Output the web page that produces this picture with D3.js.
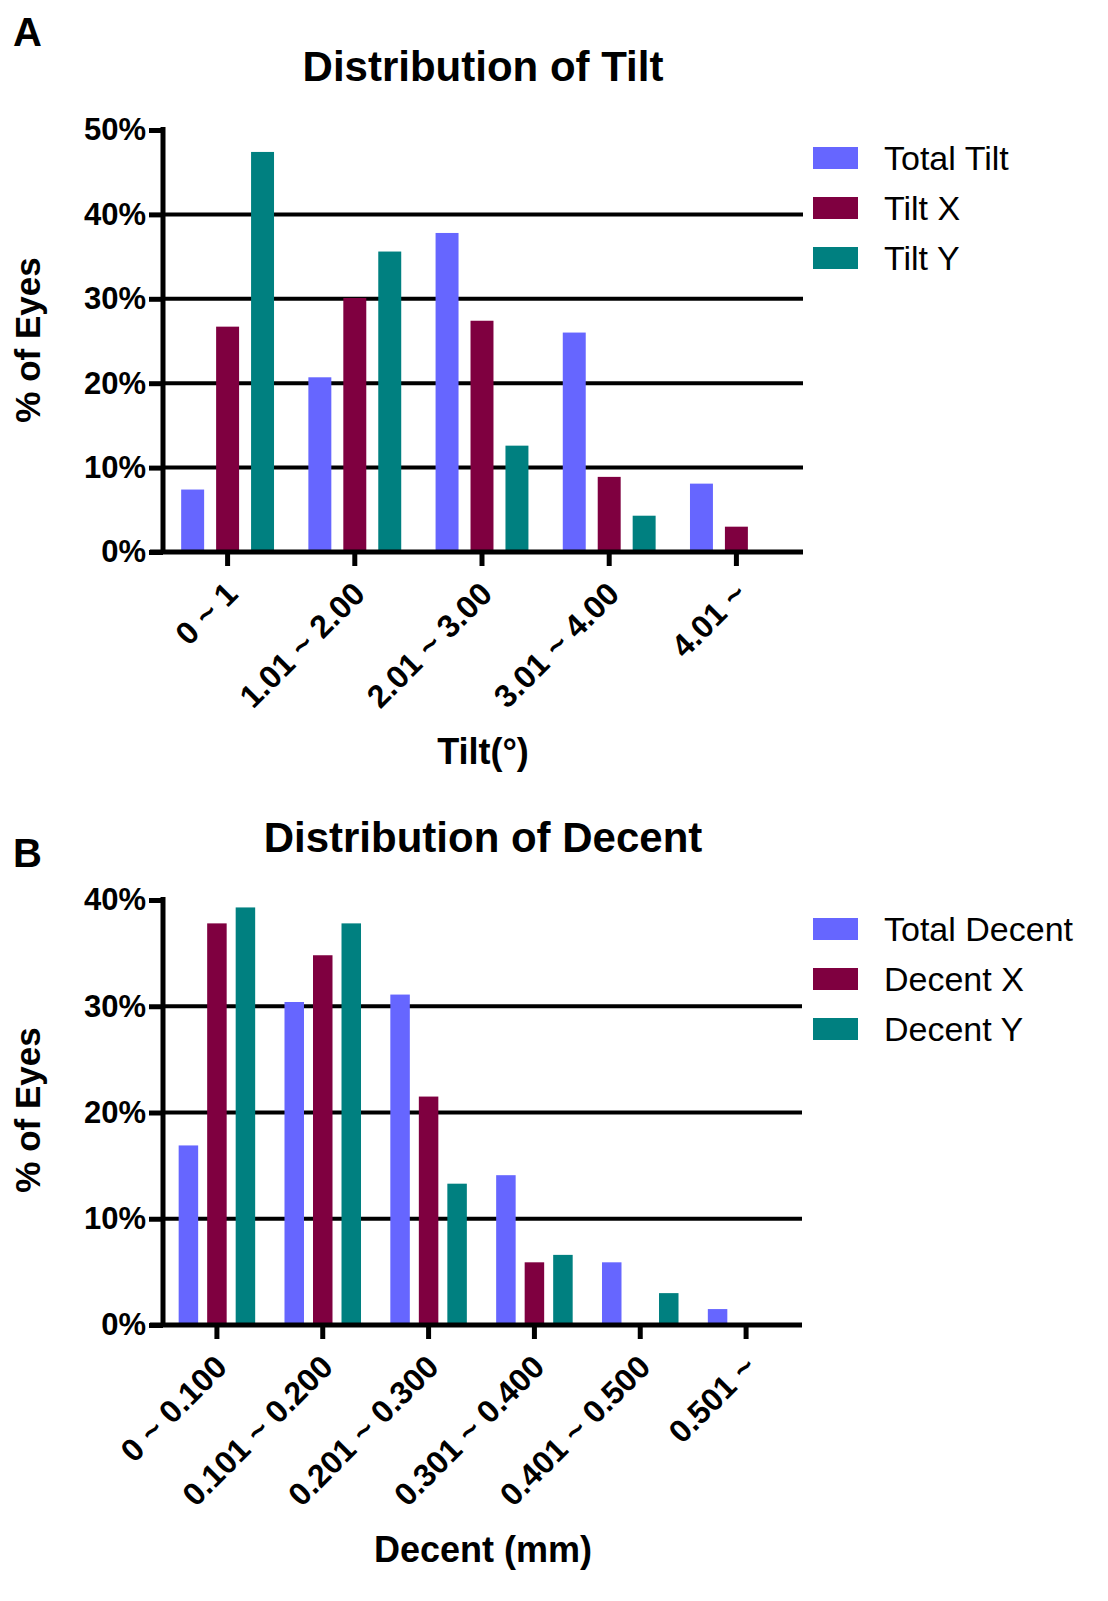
<!DOCTYPE html>
<html>
<head>
<meta charset="utf-8">
<script src="https://cdn.jsdelivr.net/npm/d3@7"></script>
<style>
  body { margin: 0; background: #fff; }
  svg { display: block; font-family: "Liberation Sans", Arial, sans-serif; }
</style>
</head>
<body>
<div id="chart"></div>
<script>
// panel A: tilt
const tiltCats = ["0 ~ 1", "1.01 ~ 2.00", "2.01 ~ 3.00", "3.01 ~ 4.00", "4.01 ~"];
const tiltTotal = [7.4, 20.7, 37.8, 26.0, 8.1];
const tiltX = [26.7, 30.1, 27.4, 8.9, 3.0];
const tiltY = [47.4, 35.6, 12.6, 4.3, 0];
const tiltTicks = [0, 10, 20, 30, 40, 50];
const tiltSeries = ["Total Tilt", "Tilt X", "Tilt Y"];

// panel B: decentration
const decentCats = ["0 ~ 0.100", "0.101 ~ 0.200", "0.201 ~ 0.300", "0.301 ~ 0.400", "0.401 ~ 0.500", "0.501 ~"];
const decentTotal = [16.9, 30.4, 31.1, 14.1, 5.9, 1.5];
const decentX = [37.8, 34.8, 21.5, 5.9, 0, 0];
const decentY = [39.3, 37.8, 13.3, 6.6, 3.0, 0];
const decentTicks = [0, 10, 20, 30, 40];
const decentSeries = ["Total Decent", "Decent X", "Decent Y"];

const colors = ["#6666ff", "#7f0040", "#008080"];

const svg = d3.select("#chart").append("svg")
  .attr("width", 1108)
  .attr("height", 1601);

function drawPanel(opt) {
  const g = svg.append("g");
  const { left, right, top, bottom } = opt;

  const x0 = d3.scaleBand()
    .domain(opt.cats)
    .range([left, right])
    .paddingInner(opt.groupPad)
    .paddingOuter(opt.groupPad / 2);

  const x1 = d3.scaleBand()
    .domain(opt.series)
    .range([0, x0.bandwidth()])
    .paddingInner(opt.barPad);

  const y = d3.scaleLinear()
    .domain([0, d3.max(opt.ticks)])
    .range([bottom, top]);

  // gridlines (none at the top tick)
  g.append("g")
    .selectAll("line")
    .data(opt.ticks.filter((d) => d > 0 && d < d3.max(opt.ticks)))
    .join("line")
    .attr("x1", left)
    .attr("x2", right + 3)
    .attr("y1", (d) => y(d))
    .attr("y2", (d) => y(d))
    .attr("stroke", "#000")
    .attr("stroke-width", 4);

  // bars
  const rows = opt.cats.map((c, i) => ({
    cat: c,
    vals: opt.values.map((v, j) => ({ key: opt.series[j], value: v[i], color: colors[j] })),
  }));

  g.append("g")
    .selectAll("g")
    .data(rows)
    .join("g")
    .attr("transform", (d) => `translate(${x0(d.cat)},0)`)
    .selectAll("rect")
    .data((d) => d.vals.filter((v) => v.value > 0))
    .join("rect")
    .attr("x", (d) => x1(d.key))
    .attr("width", x1.bandwidth())
    .attr("y", (d) => y(d.value))
    .attr("height", (d) => y(0) - y(d.value))
    .attr("fill", (d) => d.color);

  // y axis
  const yAxis = g.append("g")
    .attr("transform", `translate(${left - 1},0)`)
    .call(d3.axisLeft(y).tickValues(opt.ticks).tickSize(14).tickFormat((d) => d + "%"));
  yAxis.select(".domain").remove();
  yAxis.selectAll(".tick line").attr("stroke-width", 5);
  yAxis.selectAll(".tick text")
    .attr("x", -17)
    .attr("font-size", 31)
    .attr("font-weight", "bold")
    .attr("font-family", "'Liberation Sans', Arial, sans-serif")
    .attr("fill", "#000");
  g.append("line")
    .attr("x1", left - 1).attr("x2", left - 1)
    .attr("y1", top - 3).attr("y2", bottom + 2)
    .attr("stroke", "#000").attr("stroke-width", 5);

  // x axis
  const xAxis = g.append("g")
    .attr("transform", `translate(0,${bottom})`)
    .call(d3.axisBottom(x0).tickSize(14).tickFormat(""));
  xAxis.select(".domain").remove();
  xAxis.selectAll(".tick line").attr("stroke-width", 5);
  g.append("line")
    .attr("x1", left - 14).attr("x2", right + 3)
    .attr("y1", bottom).attr("y2", bottom)
    .attr("stroke", "#000").attr("stroke-width", 5);

  g.append("g")
    .selectAll("text")
    .data(opt.cats)
    .join("text")
    .attr("transform", (d) => `translate(${x0(d) + x0.bandwidth() / 2 + 12},${bottom + 44}) rotate(-45)`)
    .attr("text-anchor", "end")
    .attr("font-size", 32)
    .attr("font-weight", "bold")
    .text((d) => d);

  // titles
  g.append("text")
    .attr("x", 483).attr("y", opt.titleY)
    .attr("text-anchor", "middle")
    .attr("font-size", 42).attr("font-weight", "bold")
    .text(opt.title);

  g.append("text")
    .attr("x", 483).attr("y", opt.xTitleY)
    .attr("text-anchor", "middle")
    .attr("font-size", 36).attr("font-weight", "bold")
    .text(opt.xTitle);

  g.append("text")
    .attr("transform", `translate(40,${opt.yTitleY}) rotate(-90)`)
    .attr("text-anchor", "middle")
    .attr("font-size", 35).attr("font-weight", "bold")
    .text("% of Eyes");

  g.append("text")
    .attr("x", 13).attr("y", opt.letterY)
    .attr("font-size", 40).attr("font-weight", "bold")
    .text(opt.letter);

  // legend
  const leg = g.append("g")
    .selectAll("g")
    .data(opt.series)
    .join("g")
    .attr("transform", (d, i) => `translate(813,${opt.legendY + i * 50})`);
  leg.append("rect")
    .attr("y", -11).attr("width", 45).attr("height", 22)
    .attr("fill", (d, i) => colors[i]);
  leg.append("text")
    .attr("x", 71).attr("dy", "0.36em")
    .attr("font-size", 34)
    .text((d) => d);
}

drawPanel({
  cats: tiltCats,
  series: tiltSeries,
  values: [tiltTotal, tiltX, tiltY],
  ticks: tiltTicks,
  left: 164, right: 800, top: 130, bottom: 552,
  groupPad: 0.27, barPad: 0.343,
  title: "Distribution of Tilt", titleY: 81,
  xTitle: "Tilt(°)", xTitleY: 764,
  yTitleY: 340,
  letter: "A", letterY: 46,
  legendY: 158,
});

drawPanel({
  cats: decentCats,
  series: decentSeries,
  values: [decentTotal, decentX, decentY],
  ticks: decentTicks,
  left: 164, right: 799, top: 900, bottom: 1325,
  groupPad: 0.277, barPad: 0.316,
  title: "Distribution of Decent", titleY: 852,
  xTitle: "Decent (mm)", xTitleY: 1562,
  yTitleY: 1110,
  letter: "B", letterY: 867,
  legendY: 929,
});
</script>
</body>
</html>
